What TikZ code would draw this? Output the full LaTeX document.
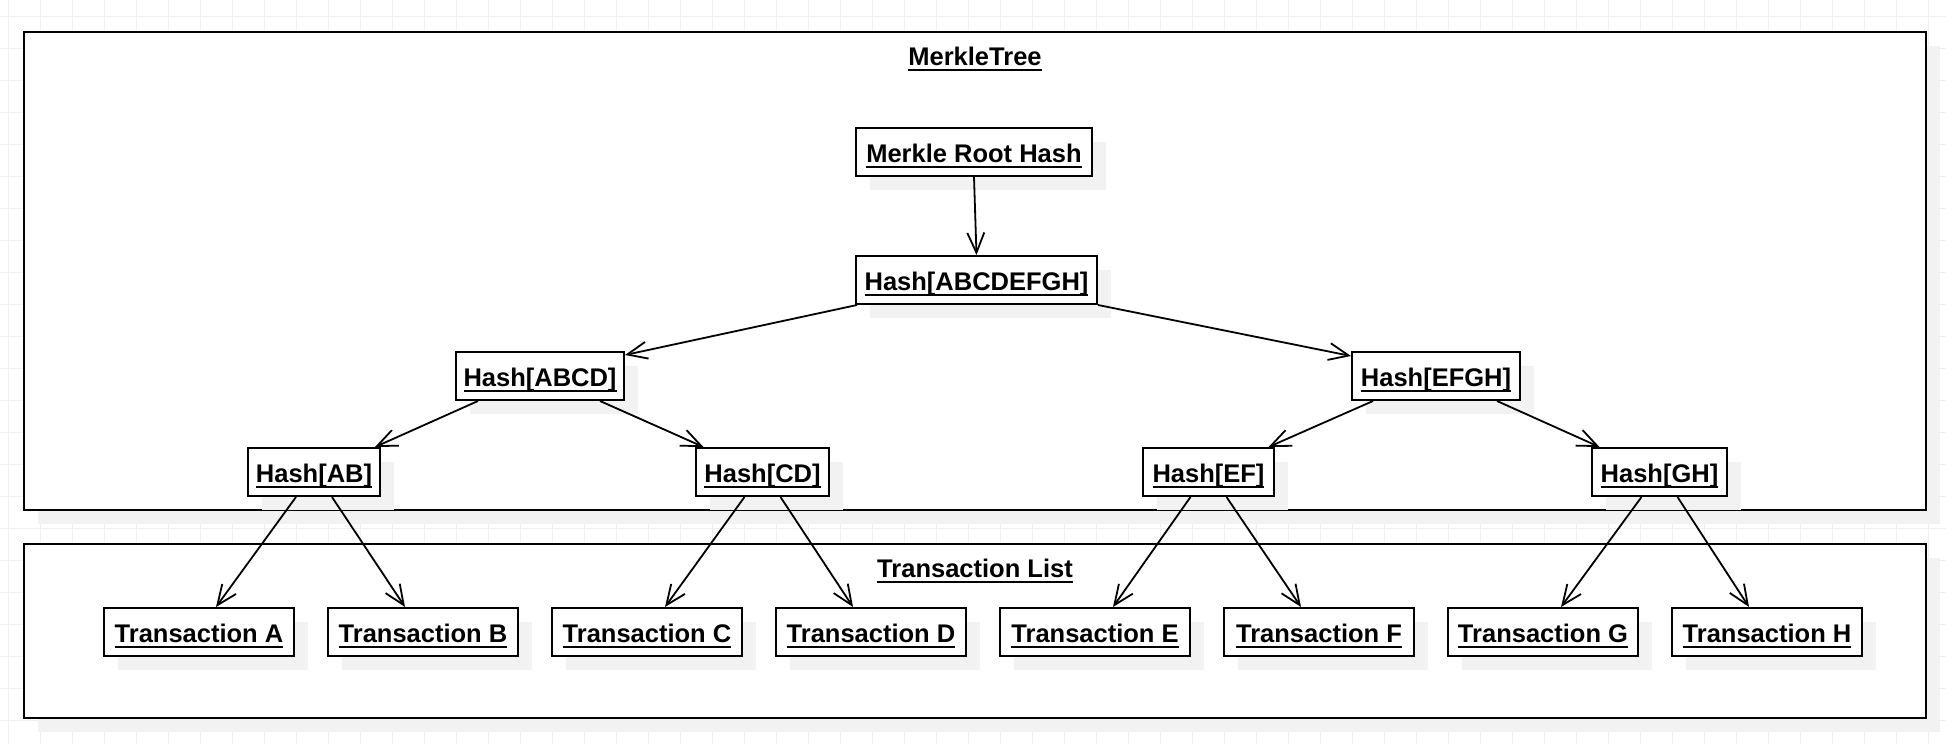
\documentclass[tikz,border=0pt]{standalone}
\usepackage{fontspec}
\setmainfont{Liberation Sans}
\usetikzlibrary{arrows.meta,shadows}
\definecolor{gridc}{HTML}{EFEFEF}
\definecolor{shadowc}{HTML}{F2F2F2}
\newcommand{\myul}[1]{\setbox0\hbox{\bfseries #1}\rlap{\usebox0}\rule[-6pt]{\wd0}{2pt}}
\tikzset{
  gridline/.style={draw=gridc, line width=1pt},
  box/.style={draw=black, line width=2pt, fill=white, inner sep=0pt,
    minimum height=48pt, text height=20pt, text depth=0pt,
    font=\fontsize{25.5}{30}\selectfont,
    drop shadow={shadow xshift=14pt, shadow yshift=-14pt, fill=shadowc, opacity=1}},
  title/.style={anchor=base, inner sep=0pt, font=\fontsize{25.5}{30}\selectfont},
  conn/.style={line width=1.8pt, -{Straight Barb[length=20pt,width=17pt,line width=1.8pt]}},
  frame/.style={draw=black, line width=2pt, fill=white},
  frameshadow/.style={fill=shadowc, draw=none},
}
\begin{document}
\begin{tikzpicture}[x=1pt,y=-1pt]
\useasboundingbox (0,0) rectangle (1946,744);
\fill[white] (0,0) rectangle (1946,744);
% grid
\foreach \i in {0,...,60} \draw[gridline] ({8+32*\i},0) -- ({8+32*\i},744);
\foreach \j in {0,...,22} \draw[gridline] (0,{16+32*\j}) -- (1946,{16+32*\j});
% frames
\fill[frameshadow] (38,46) rectangle (1940,524);
\fill[frameshadow] (38,558) rectangle (1940,732);
\draw[frame] (24,32) rectangle (1926,510);
\draw[frame] (24,544) rectangle (1926,718);
\node[title] (t1) at (975,65) {\myul{MerkleTree}};
\node[title] (t2) at (975,577) {\myul{Transaction List}};
% tree nodes
\node[box, minimum width=236pt] (root) at (974,152) {\myul{Merkle Root Hash}};
\node[box, minimum width=241pt] (h8) at (976.5,280) {\myul{Hash[ABCDEFGH]}};
\node[box, minimum width=168pt] (h4a) at (540,376) {\myul{Hash[ABCD]}};
\node[box, minimum width=168pt] (h4b) at (1436,376) {\myul{Hash[EFGH]}};
\node[box, minimum width=132pt] (h2a) at (314,472) {\myul{Hash[AB]}};
\node[box, minimum width=133pt] (h2b) at (762.5,472) {\myul{Hash[CD]}};
\node[box, minimum width=131pt] (h2c) at (1208.5,472) {\myul{Hash[EF]}};
\node[box, minimum width=135pt] (h2d) at (1659.5,472) {\myul{Hash[GH]}};
% transactions
\node[box, minimum width=190pt] (ta) at (199,632) {\myul{Transaction A}};
\node[box, minimum width=190pt] (tb) at (423,632) {\myul{Transaction B}};
\node[box, minimum width=190pt] (tc) at (647,632) {\myul{Transaction C}};
\node[box, minimum width=190pt] (td) at (871,632) {\myul{Transaction D}};
\node[box, minimum width=190pt] (te) at (1095,632) {\myul{Transaction E}};
\node[box, minimum width=190pt] (tf) at (1319,632) {\myul{Transaction F}};
\node[box, minimum width=190pt] (tg) at (1543,632) {\myul{Transaction G}};
\node[box, minimum width=190pt] (th) at (1767,632) {\myul{Transaction H}};
% connectors
\draw[conn] (root.south) -- (h8.north);
\draw[conn] ([xshift=2pt]h8.south west) -- ([yshift=-4pt]h4a.north east);
\draw[conn] (h8.south east) -- ([yshift=-5pt]h4b.north west);
\draw[conn] ([xshift=-62pt]h4a.south) -- ([xshift=61pt]h2a.north);
\draw[conn] ([xshift=60pt]h4a.south) -- ([xshift=-59pt]h2b.north);
\draw[conn] ([xshift=-63pt]h4b.south) -- ([xshift=60pt]h2c.north);
\draw[conn] ([xshift=61pt]h4b.south) -- ([xshift=-60pt]h2d.north);
\draw[conn] ([xshift=-18pt]h2a.south) -- ([xshift=17pt]ta.north);
\draw[conn] ([xshift=18pt]h2a.south) -- ([xshift=-18pt]tb.north);
\draw[conn] ([xshift=-18pt]h2b.south) -- ([xshift=18pt]tc.north);
\draw[conn] ([xshift=18pt]h2b.south) -- ([xshift=-18pt]td.north);
\draw[conn] ([xshift=-18pt]h2c.south) -- ([xshift=18pt]te.north);
\draw[conn] ([xshift=18pt]h2c.south) -- ([xshift=-18pt]tf.north);
\draw[conn] ([xshift=-18pt]h2d.south) -- ([xshift=18pt]tg.north);
\draw[conn] ([xshift=18pt]h2d.south) -- ([xshift=-18pt]th.north);
\end{tikzpicture}
\end{document}
